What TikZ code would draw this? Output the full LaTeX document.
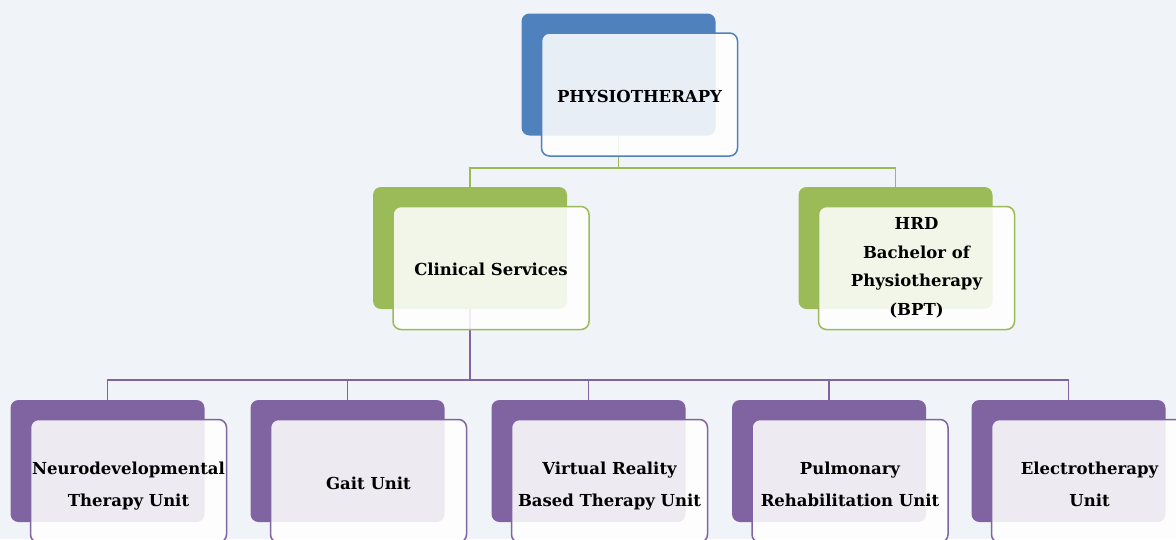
\documentclass[tikz,border=0pt]{standalone}
\usepackage{fontspec}
\setmainfont{DejaVu Serif}
\usetikzlibrary{backgrounds}
\definecolor{phyblue}{HTML}{4F81BD}
\definecolor{clingreen}{HTML}{9BBB59}
\definecolor{unitpurple}{HTML}{8064A2}
\definecolor{paper}{HTML}{F0F4F8}
\tikzset{
    backbox/.style={rounded corners=8pt, fill=#1, minimum width=194pt, minimum height=122pt, inner sep=0pt},
    frontbox/.style={rounded corners=8pt, draw=#1, line width=1.5pt, fill=white, fill opacity=0.87, text opacity=1,
        minimum width=196pt, minimum height=123pt, inner sep=1pt, align=center,
        font=\fontsize{16.5}{32}\selectfont\bfseries},
    sink/.style={text height=#1, text depth=0pt},
    link/.style={draw=#1, line width=1.5pt}
}
\begin{document}
\begin{tikzpicture}[x=1pt, y=-1pt]
        \useasboundingbox (0, 0) rectangle (1176, 539);
        \clip (0, 0) rectangle (1176, 539);

        \node[backbox=phyblue] (phyback) at (618.5, 74.5) {};
        \node[frontbox=phyblue, sink=16pt] (phy) at ([shift={(21, 20)}]phyback.center) {PHYSIOTHERAPY};

        \node[backbox=clingreen] (clinback) at (470, 248) {};
        \node[frontbox=clingreen, sink=14pt] (clin) at ([shift={(21, 20)}]clinback.center) {Clinical Services};
        \node[backbox=clingreen] (hrdback) at (895.5, 248) {};
        \node[frontbox=clingreen, font=\fontsize{16.5}{28.5}\selectfont\bfseries] (hrd) at ([shift={(21, 20)}]hrdback.center) {HRD\\Bachelor of\\Physiotherapy\\(BPT)};

        \node[backbox=unitpurple] (neuroback) at (107.5, 461) {};
        \node[frontbox=unitpurple, sink=51pt] (neuro) at ([shift={(21, 20)}]neuroback.center) {Neurodevelopmental\\Therapy Unit};
        \node[backbox=unitpurple] (gaitback) at (347.5, 461) {};
        \node[frontbox=unitpurple, sink=16pt] (gait) at ([shift={(21, 20)}]gaitback.center) {Gait Unit};
        \node[backbox=unitpurple] (vrback) at (588.5, 461) {};
        \node[frontbox=unitpurple, sink=51pt] (vr) at ([shift={(21, 20)}]vrback.center) {Virtual Reality\\Based Therapy Unit};
        \node[backbox=unitpurple] (pulmback) at (829, 461) {};
        \node[frontbox=unitpurple, sink=51pt] (pulm) at ([shift={(21, 20)}]pulmback.center) {Pulmonary\\Rehabilitation Unit};
        \node[backbox=unitpurple] (electroback) at (1068.5, 461) {};
        \node[frontbox=unitpurple, sink=51pt] (electro) at ([shift={(21, 20)}]electroback.center) {Electrotherapy\\Unit};

        \begin{scope}[on background layer]
            \fill[paper] (0, 0) rectangle (1176, 539);
            \draw[link=clingreen] (phyback.center) -- (phyback.center |- 0, 168) coordinate (greensplit);
            \draw[link=clingreen] (greensplit) -| (clinback.north);
            \draw[link=clingreen] (greensplit) -| (hrdback.north);
            \draw[link=unitpurple] (clinback.center) -- (clinback.center |- 0, 380) coordinate (purplesplit);
            \draw[link=unitpurple] (purplesplit) -| (neuroback.north);
            \draw[link=unitpurple] (purplesplit) -| (gaitback.north);
            \draw[link=unitpurple] (purplesplit) -| (vrback.north);
            \draw[link=unitpurple] (purplesplit) -| (pulmback.north);
            \draw[link=unitpurple] (purplesplit) -| (electroback.north);
        \end{scope}
    \end{tikzpicture}
\end{document}
